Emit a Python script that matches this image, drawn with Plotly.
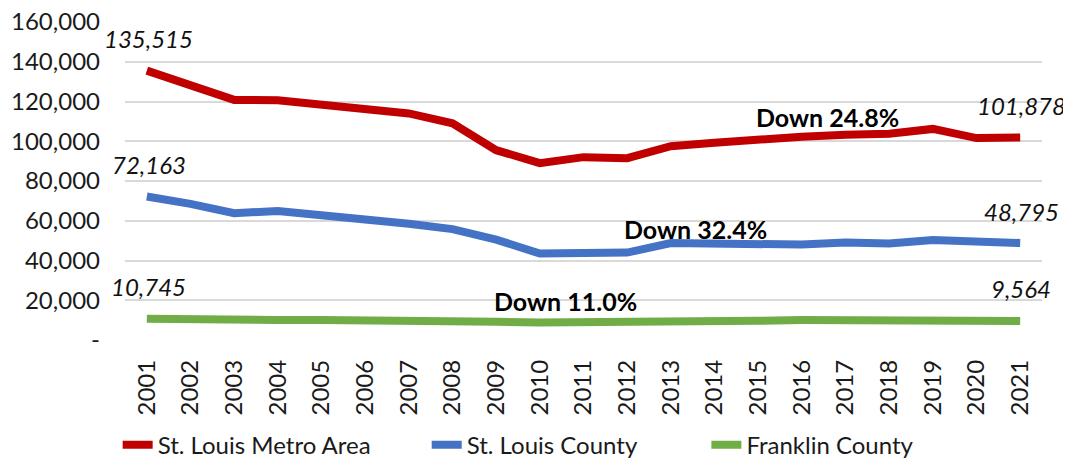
import plotly.graph_objects as go

years = list(range(2001, 2022))
metro = [135515, 128000, 120800, 120600, 118700, 116500, 114000, 109000, 95500, 89000,
         92000, 91500, 97500, 99300, 101200, 102300, 103300, 103800, 106200, 101600, 101878]
county = [72163, 68500, 63800, 64900, 62800, 61000, 58500, 55800, 50500, 43500,
          44000, 44000, 48800, 48500, 48000, 48000, 49000, 48600, 50300, 49400, 48795]
franklin = [10745, 10300, 10000, 10000, 10000, 9800, 10100, 10300, 9200, 8800,
            8800, 8800, 9000, 9300, 9700, 10000, 10100, 10100, 10000, 9500, 9564]
series_names = ["St. Louis Metro Area", "St. Louis County", "Franklin County"]
colors = ["#C00000", "#4472C4", "#70AD47"]
ytick_vals = [0, 20000, 40000, 60000, 80000, 100000, 120000, 140000, 160000]
ytick_text = ["-", "20,000", "40,000", "60,000", "80,000", "100,000", "120,000", "140,000", "160,000"]
change_labels = ["Down 24.8%", "Down 32.4%", "Down 11.0%"]

FONT = "Lato"
legend_ids = ["legend", "legend2", "legend3"]
legend_x = [-0.008, 0.329, 0.634]

fig = go.Figure()
for name, vals, c, lid in zip(series_names, [metro, county, franklin], colors, legend_ids):
    fig.add_trace(go.Scatter(x=years, y=vals, mode="lines", name=name, legend=lid,
                             line=dict(color=c, width=8)))

annotations = []
for vals in [metro, county, franklin]:
    for idx in (0, -1):
        annotations.append(dict(x=years[idx], y=vals[idx], xref="x", yref="y",
                                text=f"<i>{vals[idx]:,}</i>", showarrow=False,
                                yshift=32, xshift=2 if idx == 0 else 1,
                                font=dict(family=FONT, size=24, color="#111111")))
# change labels positions (x in year units, y in data units)
change_pos = [(2016.58, 112000), (2013.56, 56000), (2010.59, 19500)]
for txt, (ax, ay) in zip(change_labels, change_pos):
    annotations.append(dict(x=ax, y=ay, xref="x", yref="y", text=f"<b>{txt}</b>",
                            showarrow=False,
                            font=dict(family=FONT, size=25, color="#000000")))

legend_common = dict(orientation="h", y=-0.33, yanchor="middle", xanchor="left",
                     font=dict(family=FONT, size=24, color="#1a1a1a"),
                     bgcolor="rgba(0,0,0,0)")
layout_legends = {lid: dict(x=lx, **legend_common) for lid, lx in zip(legend_ids, legend_x)}

fig.update_layout(
    width=1063, height=451,
    margin=dict(l=117, r=29, t=13, b=119, autoexpand=False),
    paper_bgcolor="white", plot_bgcolor="white",
    font=dict(family=FONT, size=24, color="#1a1a1a"),
    showlegend=True,
    annotations=annotations,
    **layout_legends,
)
fig.update_xaxes(range=[2000.5, 2021.5], tickvals=years, ticktext=[str(y) for y in years],
                 tickangle=-90, showgrid=False, zeroline=False, showline=False,
                 ticks="", ticklabelstandoff=14, automargin=False,
                 tickfont=dict(family=FONT, size=24, color="#1a1a1a"))
fig.update_yaxes(range=[0, 160500], tickvals=ytick_vals, ticktext=ytick_text,
                 showgrid=True, gridcolor="#D9D9D9", gridwidth=1.5, zeroline=False,
                 showline=False, ticks="", ticklabelstandoff=24, automargin=False,
                 ticklabeloverflow="allow",
                 tickfont=dict(family=FONT, size=24, color="#1a1a1a"))

fig.write_html("out.html")
